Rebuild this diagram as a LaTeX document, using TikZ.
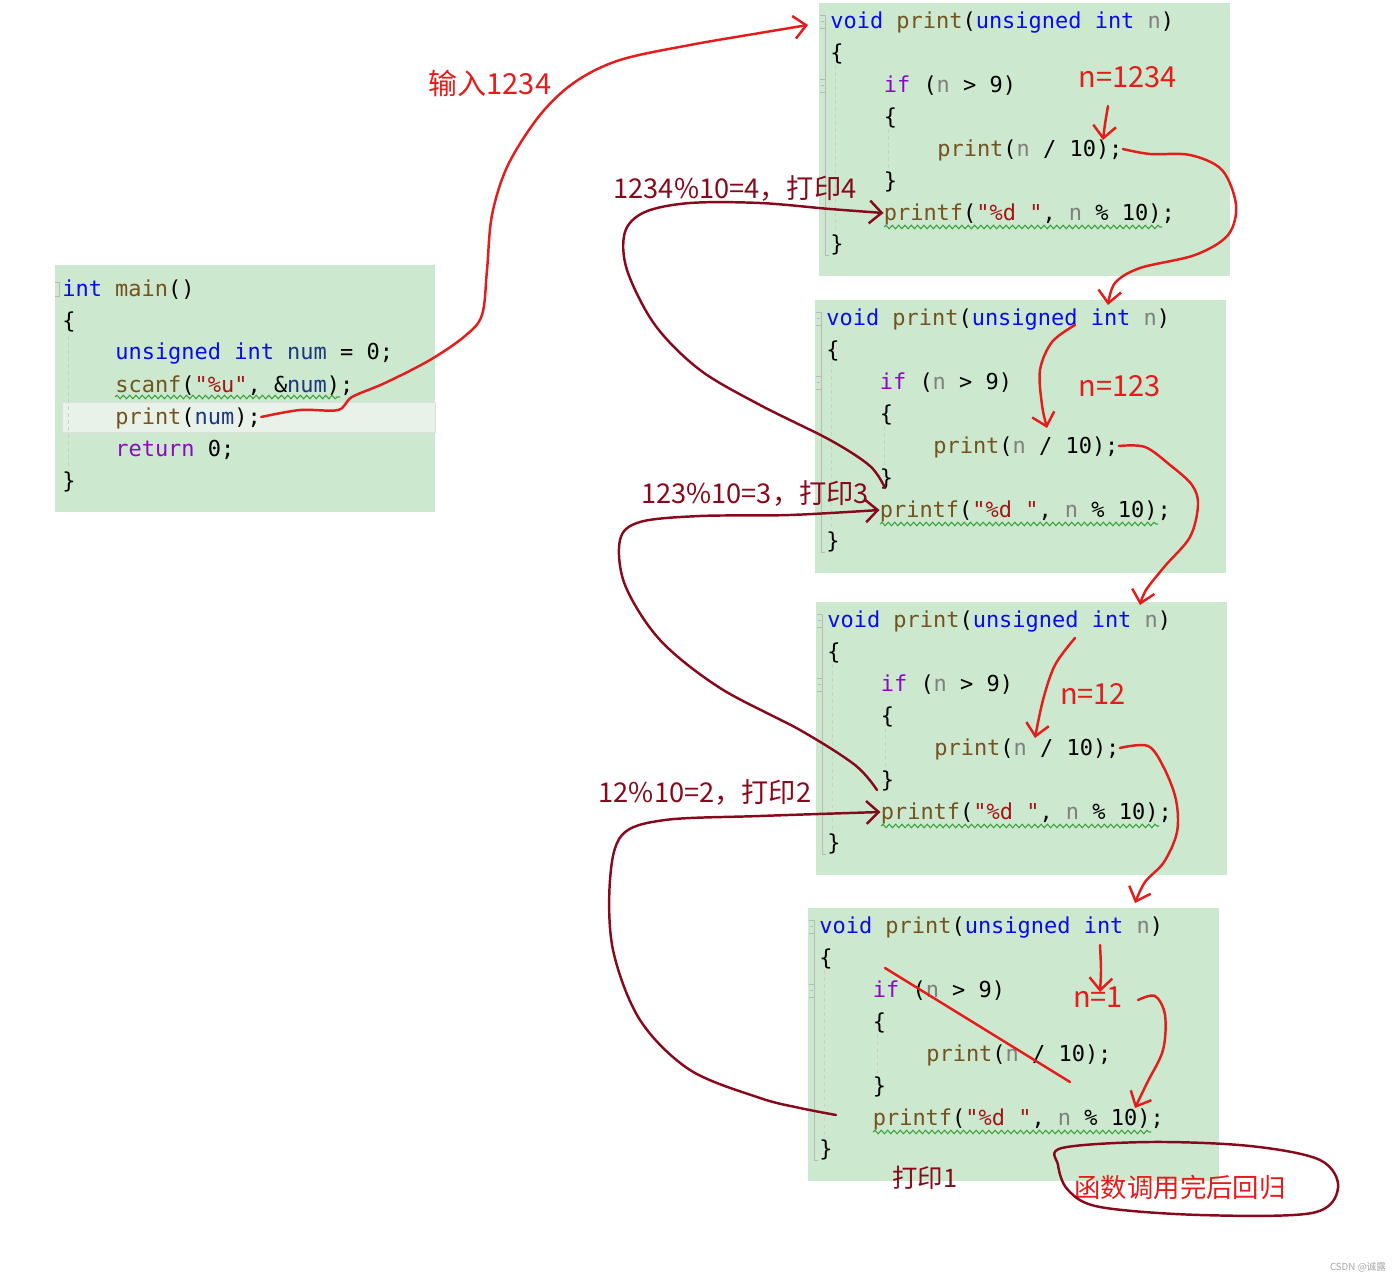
\documentclass[tikz,border=0pt]{standalone}
\usepackage{fontspec}
\setmonofont{DejaVu Sans Mono}
\newfontfamily\cjk{Noto Sans CJK SC}
\usetikzlibrary{arrows.meta,decorations.pathmorphing}
\definecolor{boxgreen}{RGB}{204,232,207}
\definecolor{kwblue}{RGB}{10,10,235}
\definecolor{fnbrown}{RGB}{116,83,31}
\definecolor{pargray}{RGB}{128,128,128}
\definecolor{varnavy}{RGB}{31,55,127}
\definecolor{ctlpurple}{RGB}{143,8,196}
\definecolor{strred}{RGB}{163,21,21}
\definecolor{penred}{RGB}{228,28,28}
\definecolor{pendark}{RGB}{135,10,28}
\definecolor{squiggreen}{RGB}{60,160,60}
\newcommand{\ckw}[1]{\textcolor{kwblue}{#1}}
\newcommand{\cfn}[1]{\textcolor{fnbrown}{#1}}
\newcommand{\cpar}[1]{\textcolor{pargray}{#1}}
\newcommand{\cvar}[1]{\textcolor{varnavy}{#1}}
\newcommand{\cctl}[1]{\textcolor{ctlpurple}{#1}}
\newcommand{\cstr}[1]{\textcolor{strred}{#1}}
\tikzset{
  code/.style={anchor=west, inner sep=0pt, text height=9pt, text depth=0pt,
    font=\ttfamily\fontsize{12.5}{14}\selectfont},
  squig/.style={squiggreen, line width=0.6pt, decorate,
    decoration={snake, amplitude=1pt, segment length=3.6pt}},
  gutter/.style={gray!55, line width=0.4pt},
  guide/.style={gray!40, line width=0.4pt, dash pattern=on 2pt off 2pt},
  redpen/.style={penred, line width=1.4pt, line cap=round, line join=round},
  darkpen/.style={pendark, line width=1.4pt, line cap=round, line join=round},
  barb/.style={-{Straight Barb[length=7pt,width=13pt]}},
  redlbl/.style={penred, inner sep=0pt, font=\cjk\fontsize{16.5}{18}\selectfont},
  darklbl/.style={pendark, inner sep=0pt, font=\cjk\fontsize{15.5}{18}\selectfont},
}
\newcommand{\pbox}[3]{%
\begin{scope}[shift={(#2,#3)}]
  \fill[boxgreen] (0,0) rectangle (411,273);
  \draw[gutter] (0.5,12) -- (6,12) -- (6,25) -- (0.5,25);
  \draw[gutter] (1.5,18.5) -- (5,18.5);
  \draw[gutter] (0.5,76) -- (6,76) -- (6,89) -- (0.5,89);
  \draw[gutter] (1.5,82.5) -- (5,82.5);
  \draw[gutter] (6,25) -- (6,76);
  \draw[gutter] (6,89) -- (6,252) -- (10,252);
  \draw[guide] (16,62) -- (16,232);
  \draw[guide] (69,126) -- (69,168);
  \node[code] (#1-l1) at (11,18) {\ckw{void} \cfn{print}(\ckw{unsigned} \ckw{int} \cpar{n})};
  \node[code] (#1-l2) at (11,50) {\{};
  \node[code] (#1-l3) at (64.5,82) {\cctl{if} (\cpar{n} > 9)};
  \node[code] (#1-l4) at (64.5,114) {\{};
  \node[code] (#1-l5) at (118,146) {\cfn{print}(\cpar{n} / 10);};
  \node[code] (#1-l6) at (64.5,178) {\}};
  \node[code] (#1-l7) at (64.5,210) {\cfn{printf}(\cstr{"\%d "}, \cpar{n} \% 10);};
  \node[code] (#1-l8) at (11,241) {\}};
  \draw[squig] (65,224) -- (343,224);
\end{scope}}
\begin{document}
\begin{tikzpicture}[x=0.02cm, y=-0.02cm]
\useasboundingbox (0,0) rectangle (1400,1280);
\fill[white] (0,0) rectangle (1400,1280);

% main box
\fill[boxgreen] (55,265) rectangle (435,512);
\filldraw[fill={rgb,255:red,232;green,242;blue,232}, draw=gray!25] (62,402) rectangle (435,432);
\draw[gutter] (55,282) -- (59,282) -- (59,296) -- (55,296);
\draw[guide] (68,336) -- (68,470);
\node[code] (m-l1) at (62,289) {\ckw{int} \cfn{main}()};
\node[code] (m-l2) at (62,321) {\{};
\node[code] (m-l3) at (115,352) {\ckw{unsigned} \ckw{int} \cvar{num} = 0;};
\node[code] (m-l4) at (115,385) {\cfn{scanf}(\cstr{"\%u"}, \&\cvar{num});};
\node[code] (m-l5) at (115,417) {\cfn{print}(\cvar{num});};
\node[code] (m-l6) at (115,449) {\cctl{return} 0;};
\node[code] (m-l7) at (62,481) {\}};
\draw[squig] (115,397) -- (340,397);

% recursive boxes
\pbox{b1}{819}{3}
\pbox{b2}{815}{300}
\pbox{b3}{816}{602}
\pbox{b4}{808}{908}

% labels
\node[redlbl] (in) at (490,83) {输入1234};
\node[redlbl] (n1) at (1128,77) {n=1234};
\node[redlbl] (n2) at (1120,386) {n=123};
\node[redlbl] (n3) at (1093,694) {n=12};
\node[redlbl] (n4) at (1098,997) {n=1};
\node[darklbl] (p4) at (735,189) {1234\%10=4，打印4};
\node[darklbl] (p3) at (755,494) {123\%10=3，打印3};
\node[darklbl] (p2) at (705,793) {12\%10=2，打印2};
\node[darklbl, font=\cjk\fontsize{14.5}{16}\selectfont] (p1) at (925,1178) {打印1};
\node[penred, inner sep=0pt, font=\cjk\fontsize{15}{17}\selectfont] (ret) at (1180,1187) {函数调用完后回归};
\node[gray!70, inner sep=0pt, font=\cjk\fontsize{5.5}{6}\selectfont] (wm) at (1358,1267) {CSDN @诚露};

% call arrows (red)
\draw[redpen, barb] plot[smooth, tension=0.55] coordinates {(m-l5.east) (300,410) (338,410) (352,397) (385,383) (430,360) (465,336) (482,315) (487,270) (492,215) (508,165) (540,115) (575,82) (620,60) (690,45) (760,33) (808,25)};
\draw[redpen, barb] plot[smooth] coordinates {(1108,106) (1105,124) (1103,140)};
\draw[redpen, barb] plot[smooth, tension=0.55] coordinates {(b1-l5.east) (1150,154) (1190,155) (1222,170) (1236,205) (1228,235) (1195,255) (1140,268) (1115,283) (1108,305)};
\draw[redpen, barb] plot[smooth, tension=0.55] coordinates {(1075,325) (1052,342) (1040,370) (1042,405) (1047,428)};
\draw[redpen, barb] plot[smooth, tension=0.55] coordinates {(b2-l5.east) (1145,447) (1170,465) (1192,485) (1198,505) (1190,537) (1165,566) (1146,590) (1140,605)};
\draw[redpen, barb] plot[smooth, tension=0.55] coordinates {(1075,638) (1055,665) (1043,700) (1035,738)};
\draw[redpen, barb] plot[smooth, tension=0.55] coordinates {(b3-l5.east) (1148,746) (1164,768) (1176,800) (1177,832) (1164,862) (1145,882) (1135,903)};
\draw[redpen, barb] plot[smooth] coordinates {(1100,945) (1101,970) (1100,992)};
\draw[redpen] (885,968) -- (1070,1082);
\draw[redpen, barb] plot[smooth, tension=0.55] coordinates {(1138,1000) (1155,996) (1165,1015) (1163,1050) (1147,1083) (1135,1108)};

% return arrows (dark red)
\draw[darkpen, barb] plot[smooth, tension=0.55] coordinates {(885,488) (870,466) (830,440) (760,405) (700,370) (655,325) (627,270) (625,232) (645,212) (690,203) (760,203) (830,209) (b1-l7.west)};
\draw[darkpen, barb] plot[smooth, tension=0.55] coordinates {(877,790) (855,765) (800,730) (720,688) (660,640) (625,585) (620,540) (640,522) (700,516) (790,515) (b2-l7.west)};
\draw[darkpen, barb] plot[smooth, tension=0.55] coordinates {(836,1115) (800,1108) (760,1098) (690,1070) (640,1020) (613,950) (610,880) (622,835) (665,820) (760,816) (b3-l7.west)};
\draw[darkpen] plot[smooth cycle, tension=0.55] coordinates {(1062,1148) (1150,1142) (1250,1146) (1320,1160) (1338,1188) (1312,1213) (1200,1215) (1100,1207) (1068,1190) (1058,1165)};
\end{tikzpicture}
\end{document}
